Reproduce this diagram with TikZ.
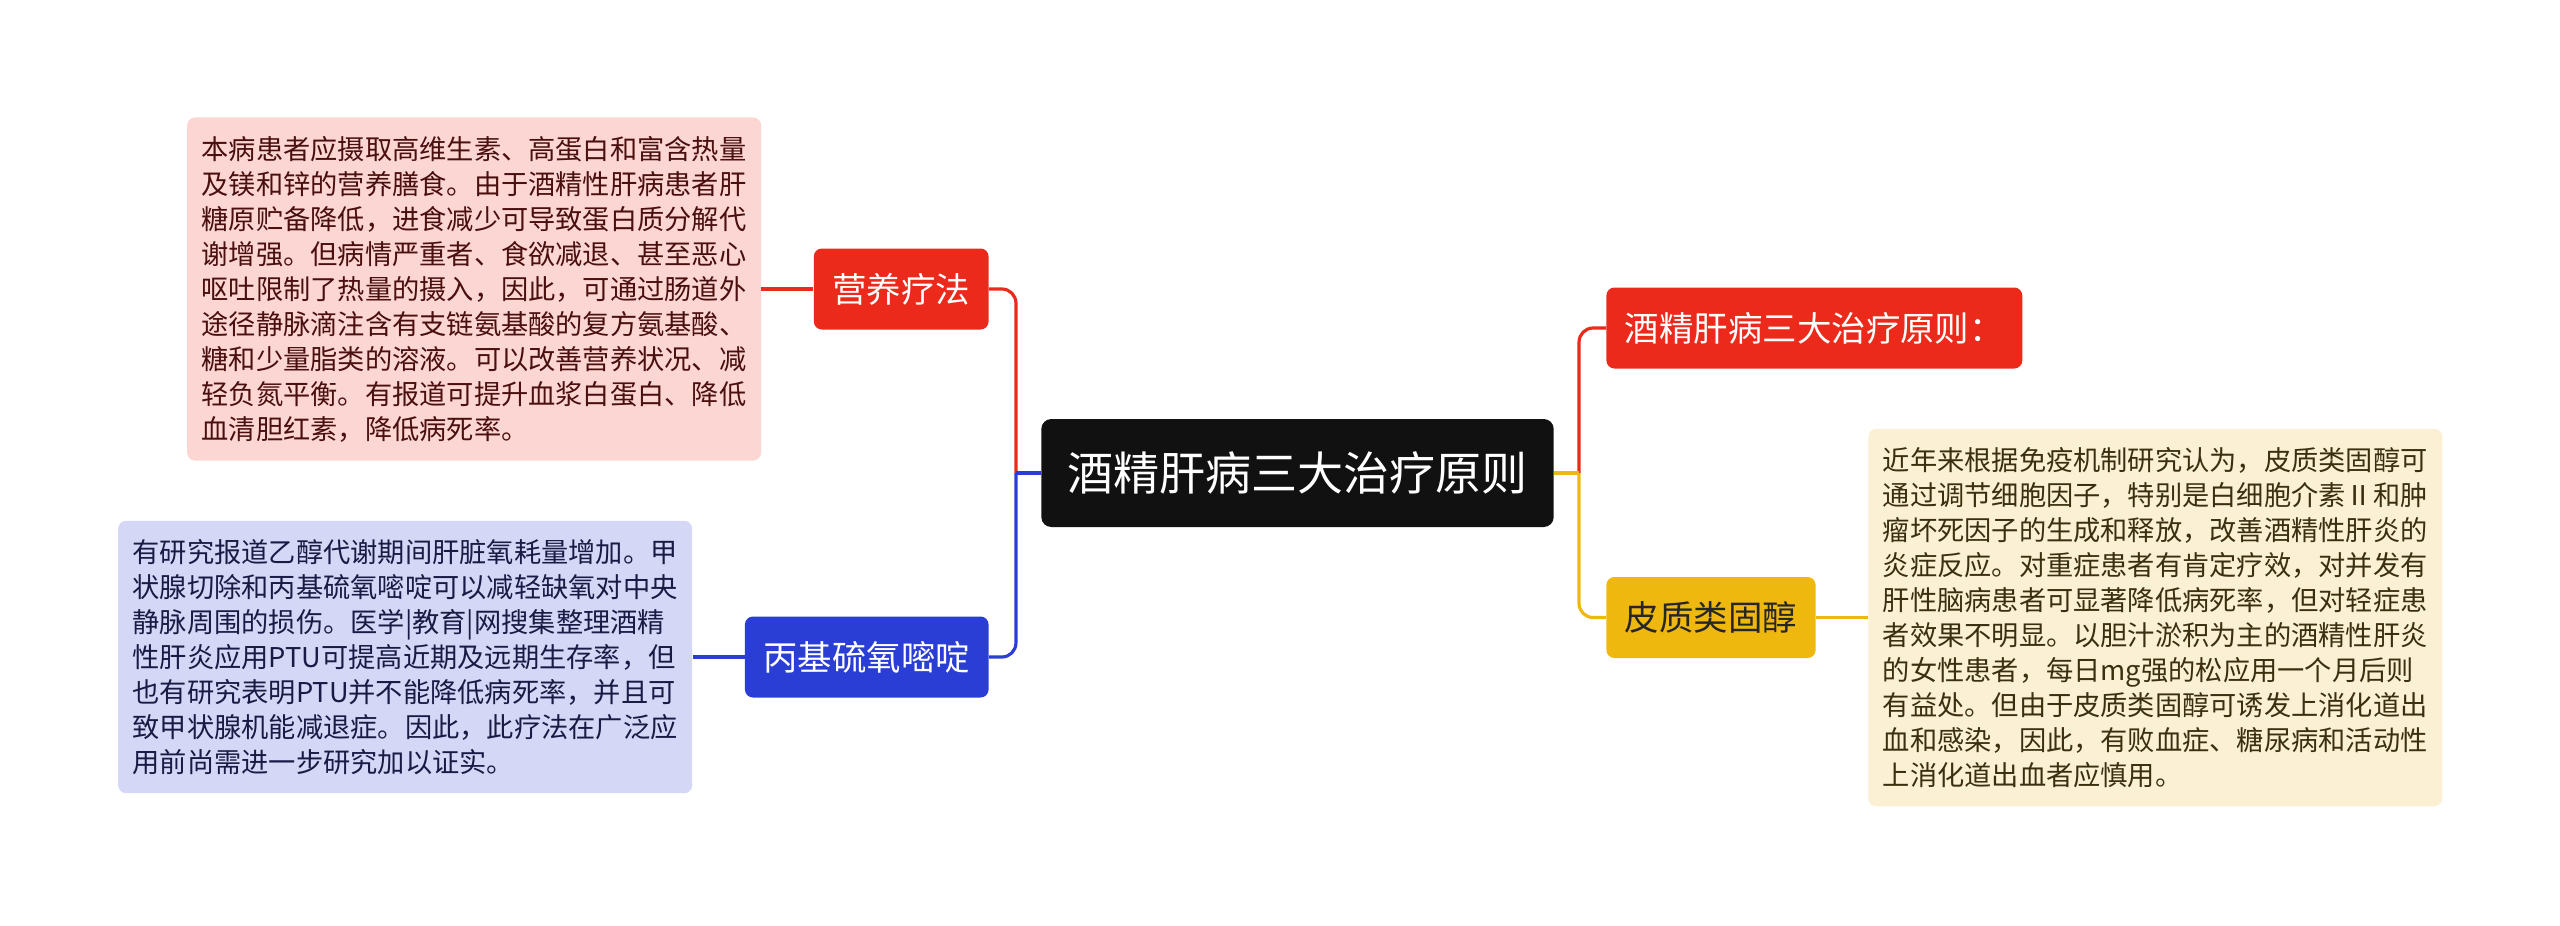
\documentclass[tikz,border=0pt]{standalone}
\usepackage{fontspec}
\setmainfont{Noto Sans CJK SC}
\usetikzlibrary{positioning}

\definecolor{rootfill}{HTML}{111111}
\definecolor{redfill}{HTML}{EB2A1C}
\definecolor{bluefill}{HTML}{2A3DD5}
\definecolor{yellowfill}{HTML}{EFB80F}
\definecolor{pinknote}{HTML}{FCD6D3}
\definecolor{bluenote}{HTML}{D4D8F6}
\definecolor{yellownote}{HTML}{FCF0D4}
\definecolor{pinktext}{HTML}{4A0F0F}
\definecolor{bluetext}{HTML}{191B45}
\definecolor{yellowtext}{HTML}{3A3010}

\begin{document}
\begin{tikzpicture}[node distance = 1.04cm,
  root/.style = {rectangle, rounded corners = 0.2cm, fill = rootfill, text = white,
    font = \fontsize{26.2pt}{31pt}\selectfont, inner xsep = 0.52cm, minimum height = 2.16cm},
  branch/.style = {rectangle, rounded corners = 0.16cm, font = \fontsize{19.6pt}{24pt}\selectfont,
    inner xsep = 0.37cm, minimum height = 1.62cm},
  note/.style = {rectangle, rounded corners = 0.16cm, font = \fontsize{15.5pt}{19.92pt}\selectfont,
    text width = 10.9cm, align = left, inner xsep = 0.29cm, inner ysep = 0.37cm},
  conn/.style = {line width = 1.8pt, rounded corners = 0.28cm}]
  \useasboundingbox (0,0) rectangle (51.2,-18.5);
  \node (root) [root] at (25.95,-9.46) {酒精肝病三大治疗原则};
  \node (nutr)    [branch, fill = redfill, text = white, left = of root, yshift = 3.68cm] {营养疗法};
  \node (ptu)     [branch, fill = bluefill, text = white, left = of root, yshift = -3.68cm] {丙基硫氧嘧啶};
  \node (rules)   [branch, fill = redfill, text = white, right = of root, yshift = 2.9cm] {酒精肝病三大治疗原则：};
  \node (steroid) [branch, fill = yellowfill, text = black!85, right = of root, yshift = -2.89cm] {皮质类固醇};

  \node (nutrnote) [note, fill = pinknote, text = pinktext, left = of nutr] {本病患者应摄取高维生素、高蛋白和富含热量\\
  及镁和锌的营养膳食。由于酒精性肝病患者肝\\
  糖原贮备降低，进食减少可导致蛋白质分解代\\
  谢增强。但病情严重者、食欲减退、甚至恶心\\
  呕吐限制了热量的摄入，因此，可通过肠道外\\
  途径静脉滴注含有支链氨基酸的复方氨基酸、\\
  糖和少量脂类的溶液。可以改善营养状况、减\\
  轻负氮平衡。有报道可提升血浆白蛋白、降低\\
  血清胆红素，降低病死率。};
  \node (ptunote) [note, fill = bluenote, text = bluetext, left = of ptu] {有研究报道乙醇代谢期间肝脏氧耗量增加。甲\\
  状腺切除和丙基硫氧嘧啶可以减轻缺氧对中央\\
  静脉周围的损伤。医学|教育|网搜集整理酒精\\
  性肝炎应用PTU可提高近期及远期生存率，但\\
  也有研究表明PTU并不能降低病死率，并且可\\
  致甲状腺机能减退症。因此，此疗法在广泛应\\
  用前尚需进一步研究加以证实。};
  \node (steroidnote) [note, fill = yellownote, text = yellowtext, right = of steroid] {近年来根据免疫机制研究认为，皮质类固醇可\\
  通过调节细胞因子，特别是白细胞介素{\addfontfeatures{RawFeature=+fwid}Ⅱ}和肿\\
  瘤坏死因子的生成和释放，改善酒精性肝炎的\\
  炎症反应。对重症患者有肯定疗效，对并发有\\
  肝性脑病患者可显著降低病死率，但对轻症患\\
  者效果不明显。以胆汁淤积为主的酒精性肝炎\\
  的女性患者，每日mg强的松应用一个月后则\\
  有益处。但由于皮质类固醇可诱发上消化道出\\
  血和感染，因此，有败血症、糖尿病和活动性\\
  上消化道出血者应慎用。};

  \coordinate [left = 0.5cm of root] (lj);
  \coordinate [right = 0.5cm of root] (rj);

  \draw [conn, redfill]    (lj) |- (nutr);
  \draw [conn, bluefill]   (lj) |- (ptu);
  \draw [conn, bluefill]   (root) -- (lj);
  \draw [conn, redfill]    (rj) |- (rules);
  \draw [conn, yellowfill] (rj) |- (steroid);
  \draw [conn, yellowfill] (root) -- (rj);
  \draw [conn, redfill]    (nutrnote) -- (nutr);
  \draw [conn, bluefill]   (ptunote) -- (ptu);
  \draw [conn, yellowfill] (steroid) -- (steroidnote);
\end{tikzpicture}
\end{document}
